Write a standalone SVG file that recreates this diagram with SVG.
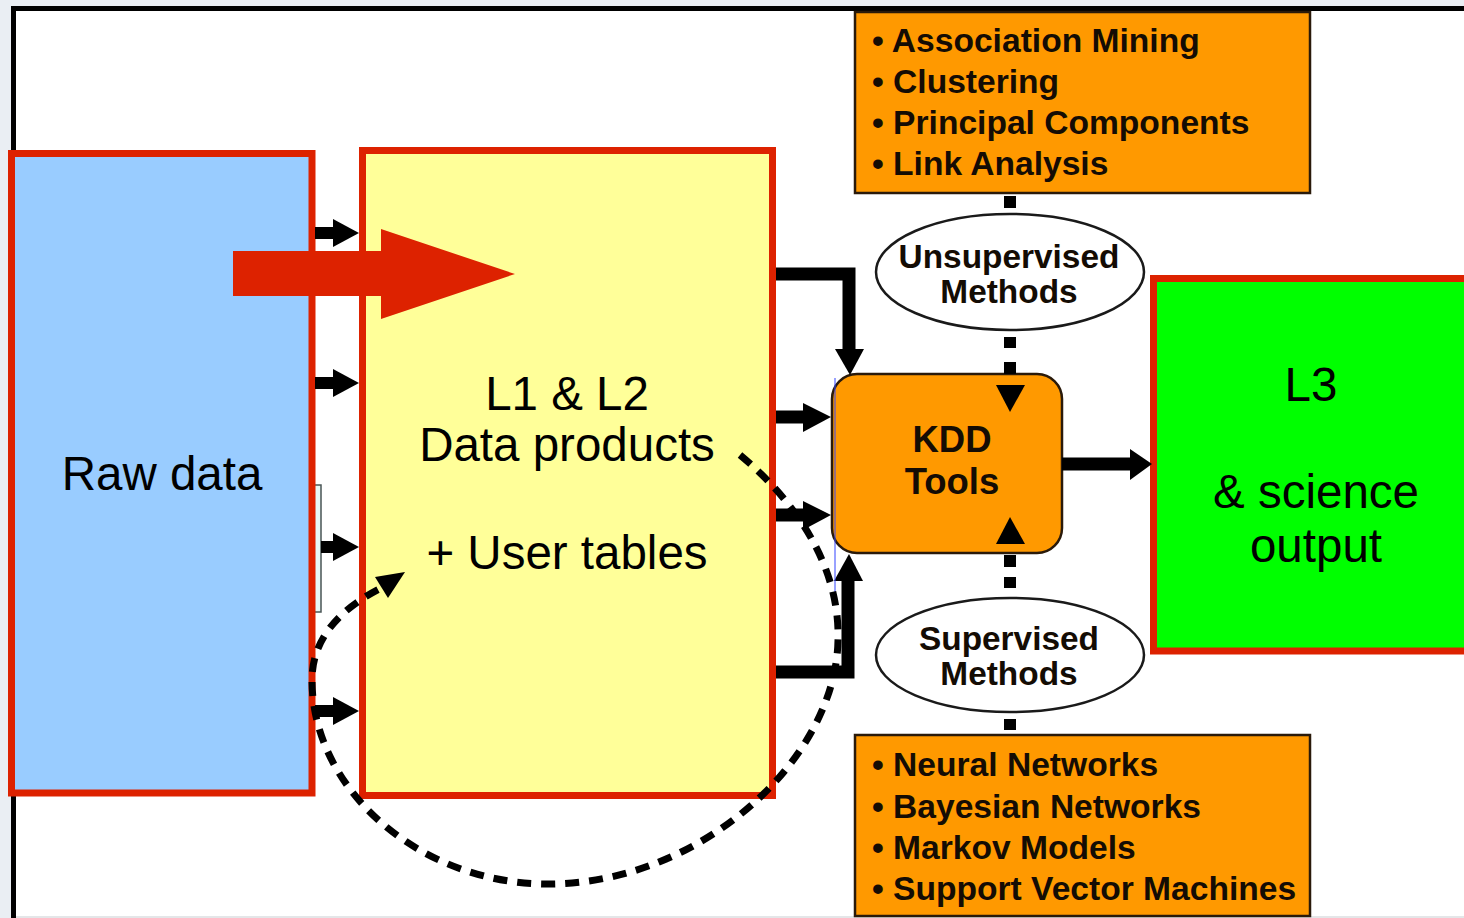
<svg xmlns="http://www.w3.org/2000/svg" width="1464" height="918" viewBox="0 0 1464 918">
  <style>
    .reg { font-family: "Liberation Sans", Arial, sans-serif; font-size: 47.5px; fill: #000; }
    .bold { font-family: "Liberation Sans", Arial, sans-serif; font-weight: bold; fill: #140c04; }
    .list { font-size: 33.6px; }
    .oval { font-size: 33.4px; }
    .kdd { font-size: 36.5px; }
    .box { stroke: #dd2200; stroke-width: 7; }
    .orange { fill: #ff9900; stroke: #2a1a0a; stroke-width: 2.5; }
    .solid { fill: none; stroke: #000; stroke-width: 13; stroke-linejoin: miter; }
    .head { fill: #000; }
    .dash { fill: none; stroke: #000; stroke-width: 7; stroke-dasharray: 14 10; }
  </style>

  <!-- page surround and white canvas with black frame -->
  <rect x="0" y="0" width="1464" height="918" fill="#eaeef3"/>
  <rect x="13.5" y="8.5" width="1500" height="1000" fill="#fff" stroke="#000" stroke-width="5"/>
  <rect x="16" y="916" width="1448" height="2" fill="#e4e6e8"/>

  <!-- narrow side panel partly hidden behind the raw data box -->
  <rect x="311" y="485" width="10" height="127" fill="#e6f7f6" stroke="#4a5555" stroke-width="1.5"/>

  <g id="raw-data">
    <rect class="box" x="11.5" y="153.5" width="300.5" height="639.5" fill="#99ccff"/>
    <text class="reg" x="162" y="490" text-anchor="middle">Raw data</text>
  </g>

  <g id="data-products">
    <rect class="box" x="362.5" y="150.5" width="410" height="645" fill="#ffff99"/>
    <text class="reg" x="567" y="410" text-anchor="middle">L1 &amp; L2</text>
    <text class="reg" x="567" y="461" text-anchor="middle">Data products</text>
    <text class="reg" x="567" y="569" text-anchor="middle">+ User tables</text>
  </g>

  <g id="science-output">
    <rect class="box" x="1153.5" y="278.5" width="330" height="372.5" fill="#00ff00"/>
    <text class="reg" x="1311" y="401" text-anchor="middle">L3</text>
    <text class="reg" x="1316" y="508" text-anchor="middle">&amp; science</text>
    <text class="reg" x="1316" y="562" text-anchor="middle">output</text>
  </g>

  <g id="unsupervised-list">
    <rect class="orange" x="855" y="12" width="455" height="181"/>
    <text class="bold list" x="872" y="52">• Association Mining</text>
    <text class="bold list" x="872" y="93">• Clustering</text>
    <text class="bold list" x="872" y="134">• Principal Components</text>
    <text class="bold list" x="872" y="175">• Link Analysis</text>
  </g>

  <g id="supervised-list">
    <rect class="orange" x="855" y="735" width="455" height="181"/>
    <text class="bold list" x="872" y="776">• Neural Networks</text>
    <text class="bold list" x="872" y="818">• Bayesian Networks</text>
    <text class="bold list" x="872" y="859">• Markov Models</text>
    <text class="bold list" x="872" y="900">• Support Vector Machines</text>
  </g>

  <g id="unsupervised-methods">
    <ellipse cx="1010" cy="272" rx="134" ry="58" fill="#fff" stroke="#1a1a1a" stroke-width="2.5"/>
    <text class="bold oval" x="1009" y="268" text-anchor="middle">Unsupervised</text>
    <text class="bold oval" x="1009" y="303" text-anchor="middle">Methods</text>
  </g>

  <g id="supervised-methods">
    <ellipse cx="1010" cy="655" rx="134" ry="57" fill="#fff" stroke="#1a1a1a" stroke-width="2.5"/>
    <text class="bold oval" x="1009" y="650" text-anchor="middle">Supervised</text>
    <text class="bold oval" x="1009" y="685" text-anchor="middle">Methods</text>
  </g>

  <g id="kdd-tools">
    <rect class="orange" x="832" y="374" width="230" height="179" rx="25" ry="25"/>
    <text class="bold kdd" x="952" y="452" text-anchor="middle">KDD</text>
    <text class="bold kdd" x="952" y="494" text-anchor="middle">Tools</text>
  </g>

  <g id="connectors">
    <!-- raw data feeds into the data products -->
    <g>
      <rect x="315" y="227" width="20" height="12" class="head"/>
      <polygon class="head" points="333,219 333,247 359,233"/>
      <rect x="315" y="377" width="20" height="12" class="head"/>
      <polygon class="head" points="333,369 333,397 359,383"/>
      <rect x="321" y="541" width="14" height="12" class="head"/>
      <polygon class="head" points="333,533 333,561 359,547"/>
      <rect x="315" y="705" width="20" height="12" class="head"/>
      <polygon class="head" points="333,697 333,725 359,711"/>
    </g>

    <!-- data products into KDD tools -->
    <path class="solid" d="M776 274 H849 V352"/>
    <polygon class="head" points="835,349 864,349 850,375"/>
    <path class="solid" d="M776 417 H806"/>
    <polygon class="head" points="803,403 803,432 831,417"/>
    <path class="solid" d="M776 515 H806"/>
    <polygon class="head" points="803,501 803,530 831,515"/>
    <path class="solid" d="M776 672 H848 V578"/>
    <polygon class="head" points="834,581 863,581 849,554"/>

    <!-- KDD tools to science output -->
    <path class="solid" d="M1062 464 H1133" stroke-width="15"/>
    <polygon class="head" points="1130,449 1130,480 1152,464"/>

    <!-- dotted links between method lists, ovals and KDD tools -->
    <g class="head">
      <rect x="1004" y="196" width="12" height="12"/>
      <rect x="1004" y="337" width="12" height="11"/>
      <rect x="1004" y="362" width="12" height="12"/>
      <polygon points="996,385 1025,385 1010,412"/>
      <polygon points="996,544 1025,544 1010,517"/>
      <rect x="1004" y="555" width="12" height="12"/>
      <rect x="1004" y="577" width="12" height="11"/>
      <rect x="1004" y="719" width="12" height="11"/>
    </g>

    <!-- thin guide line on the KDD box edge -->
    <line x1="835" y1="378" x2="835" y2="593" stroke="#3344ff" stroke-width="1"/>

    <!-- main flow arrow -->
    <polygon fill="#dd2200" points="233,251 381,251 381,229 515,274 381,319 381,296 233,296"/>

    <!-- feedback loop back into the user tables -->
    <path class="dash" d="M740 455 C800 505, 840 570, 838 640 C836 760, 700 884, 548 884 C420 884, 312 790, 312 680 C312 635, 345 606, 383 587"/>
    <polygon class="head" points="405,572 388,598 375,577"/>
  </g>
</svg>
